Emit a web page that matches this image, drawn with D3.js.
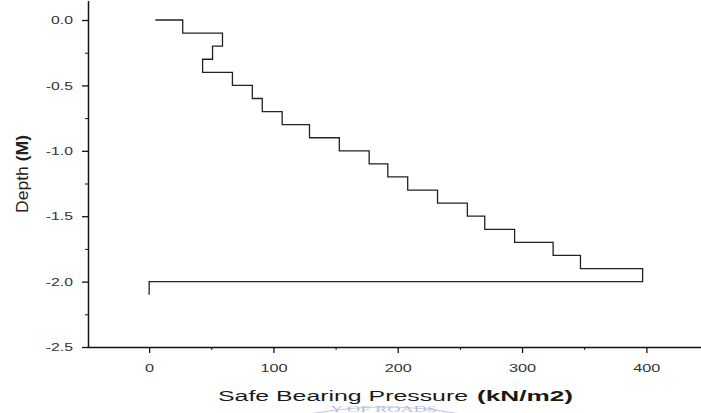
<!DOCTYPE html>
<html>
<head>
<meta charset="utf-8">
<script src="https://cdn.jsdelivr.net/npm/d3@7"></script>
<style>
  html, body { margin: 0; padding: 0; background: #fff; }
  svg { display: block; }
  .axis path, .axis line { stroke: #111; }
  .axis text { font-family: "Liberation Sans", Arial, sans-serif; fill: #333; }
</style>
</head>
<body>
<svg id="chart" width="701" height="413"></svg>
<script>
// Safe bearing pressure (kN/m2) against depth (m)
const pressure = [5, 27, 59, 51, 43, 67, 83, 91, 107, 129, 153, 177, 192, 208, 232, 256, 270, 294, 325, 347, 397, 0];
const depth = [0, -0.1, -0.2, -0.3, -0.4, -0.5, -0.6, -0.7, -0.8, -0.9, -1.0, -1.1, -1.2, -1.3, -1.4, -1.5, -1.6, -1.7, -1.8, -1.9, -2.0, -2.1];

const xTicks = [0, 100, 200, 300, 400];
const xMinorTicks = [50, 150, 250, 350];
const yTicks = [0, -0.5, -1.0, -1.5, -2.0, -2.5];
const yTickLabels = ["0.0", "-0.5", "-1.0", "-1.5", "-2.0", "-2.5"];
const yMinorTicks = [-0.25, -0.75, -1.25, -1.75, -2.25];

const svg = d3.select("#chart");

// scan is stretched sideways, so the axes are wide and the text too
const x = d3.scaleLinear().domain([-50, 450]).range([87, 708.5]);
const y = d3.scaleLinear().domain([-2.5, 0.15]).range([347, 0.4]);

const pts = pressure.map((p, i) => ({ p: p, d: depth[i] }));

// y axis
const gy = svg.append("g").attr("class", "axis").attr("transform", "translate(88,0)");
gy.call(d3.axisLeft(y).tickValues(yTicks).tickSize(6).tickSizeOuter(0)
    .tickFormat((d, i) => yTickLabels[i]));
gy.select(".domain").attr("stroke-width", 1.5);
gy.selectAll(".tick line").attr("stroke-width", 1.3);
gy.selectAll(".tick text")
  .attr("x", 0).attr("dy", "0.36em")
  .attr("font-size", 10.5)
  .attr("transform", "translate(-15,0) scale(1.5,1)");

svg.append("g").attr("class", "axis").attr("transform", "translate(88,0)")
  .call(d3.axisLeft(y).tickValues(yMinorTicks).tickSize(3).tickFormat(""))
  .call(g => g.select(".domain").remove());

// x axis
const gx = svg.append("g").attr("class", "axis").attr("transform", "translate(0,347)");
gx.call(d3.axisBottom(x).tickValues(xTicks).tickSize(6).tickSizeOuter(0));
gx.select(".domain").attr("stroke-width", 1.5);
gx.selectAll(".tick line").attr("stroke-width", 1.3);
gx.selectAll(".tick text")
  .attr("y", 0).attr("dy", 0)
  .attr("font-size", 10.5)
  .attr("transform", "translate(0,25) scale(1.55,1)");

svg.append("g").attr("class", "axis").attr("transform", "translate(0,347)")
  .call(d3.axisBottom(x).tickValues(xMinorTicks).tickSize(3).tickFormat(""))
  .call(g => g.select(".domain").remove());

// stepped pressure profile
const line = d3.line()
  .x(d => x(d.p))
  .y(d => y(d.d))
  .curve(d3.curveStepAfter);

svg.append("path")
  .datum(pts)
  .attr("fill", "none")
  .attr("stroke", "#222")
  .attr("stroke-width", 1.3)
  .attr("d", line);

// axis titles
svg.append("text")
  .attr("x", 218).attr("y", 401)
  .attr("font-family", "Liberation Sans, Arial, sans-serif")
  .attr("font-size", 15.5)
  .attr("fill", "#1a1a1a")
  .attr("textLength", 250)
  .attr("lengthAdjust", "spacingAndGlyphs")
  .text("Safe Bearing Pressure");

svg.append("text")
  .attr("x", 477).attr("y", 401)
  .attr("font-family", "Liberation Sans, Arial, sans-serif")
  .attr("font-size", 15.5)
  .attr("font-weight", "bold")
  .attr("fill", "#1a1a1a")
  .attr("textLength", 96)
  .attr("lengthAdjust", "spacingAndGlyphs")
  .text("(kN/m2)");

const yt = svg.append("text")
  .attr("transform", "translate(27.5,213) rotate(-90) scale(1,1.45)")
  .attr("font-family", "Liberation Sans, Arial, sans-serif")
  .attr("font-size", 12)
  .attr("fill", "#222")
  .attr("textLength", 78)
  .attr("lengthAdjust", "spacingAndGlyphs");
yt.append("tspan").text("Depth ");
yt.append("tspan").attr("font-weight", "bold").text("(M)");

// faint stamp near the bottom edge
const stamp = svg.append("g").attr("opacity", 0.55);
stamp.append("circle")
  .attr("cx", 385).attr("cy", 807).attr("r", 400)
  .attr("fill", "none").attr("stroke", "#7d9bd6").attr("stroke-width", 1.2);
stamp.append("text")
  .attr("x", 330).attr("y", 412)
  .attr("font-family", "Liberation Serif, serif")
  .attr("font-size", 9)
  .attr("fill", "#6f8fd0")
  .attr("textLength", 107)
  .attr("lengthAdjust", "spacingAndGlyphs")
  .text("Y OF ROADS");
</script>
</body>
</html>
